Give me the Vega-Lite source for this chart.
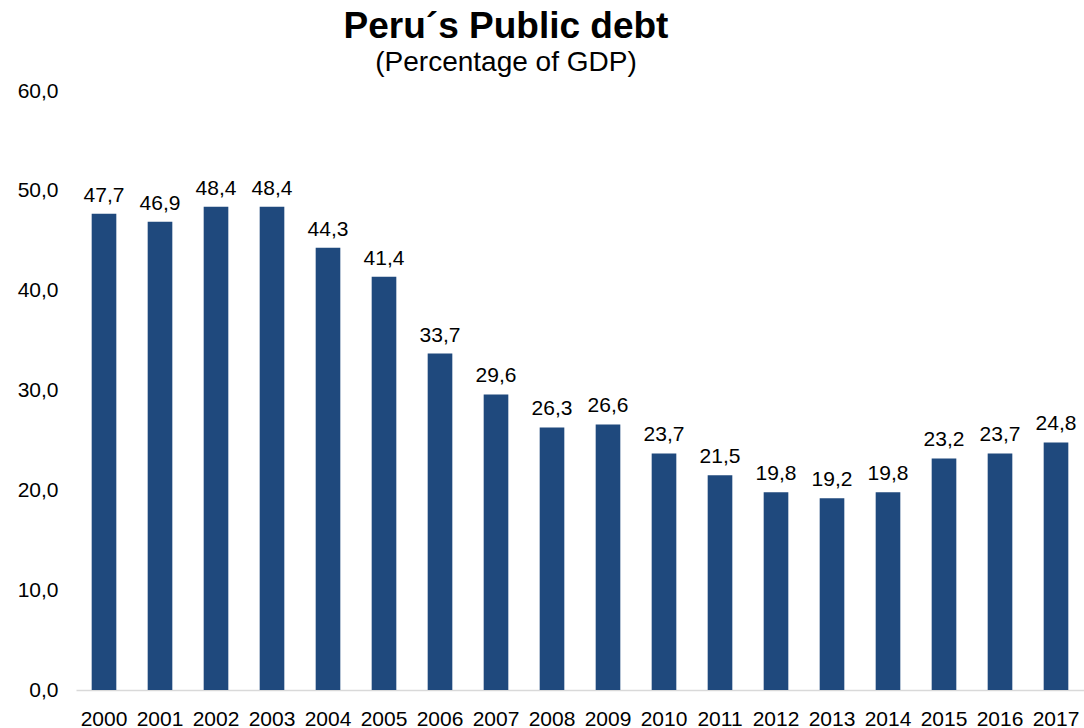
{
  "$schema": "https://vega.github.io/schema/vega-lite/v6.json",
  "width": 1008,
  "height": 599,
  "autosize": "none",
  "padding": {"left": 76, "top": 91, "right": 0, "bottom": 38},
  "background": "white",
  "config": {
    "font": "Liberation Sans",
    "view": {"stroke": null},
    "locale": {"number": {"decimal": ",", "thousands": ".", "grouping": [3], "currency": ["", ""]}}
  },
  "title": {
    "text": "Peru´s Public debt",
    "subtitle": "(Percentage of GDP)",
    "anchor": "middle",
    "frame": "group",
    "dx": -74,
    "font": "Liberation Sans",
    "fontSize": 37,
    "fontWeight": "bold",
    "color": "black",
    "subtitleFont": "Liberation Sans",
    "subtitleFontSize": 28,
    "subtitleColor": "black",
    "subtitlePadding": 3,
    "offset": 2
  },
  "data": {
    "values": [
      {"year": "2000", "debt": 47.7},
      {"year": "2001", "debt": 46.9},
      {"year": "2002", "debt": 48.4},
      {"year": "2003", "debt": 48.4},
      {"year": "2004", "debt": 44.3},
      {"year": "2005", "debt": 41.4},
      {"year": "2006", "debt": 33.7},
      {"year": "2007", "debt": 29.6},
      {"year": "2008", "debt": 26.3},
      {"year": "2009", "debt": 26.6},
      {"year": "2010", "debt": 23.7},
      {"year": "2011", "debt": 21.5},
      {"year": "2012", "debt": 19.8},
      {"year": "2013", "debt": 19.2},
      {"year": "2014", "debt": 19.8},
      {"year": "2015", "debt": 23.2},
      {"year": "2016", "debt": 23.7},
      {"year": "2017", "debt": 24.8}
    ]
  },
  "encoding": {
    "x": {
      "field": "year",
      "type": "ordinal",
      "scale": {"paddingInner": 0.56, "paddingOuter": 0.28},
      "axis": {
        "title": null,
        "labelAngle": 0,
        "labelFontSize": 21,
        "labelColor": "black",
        "labelPadding": 18,
        "ticks": false,
        "domainColor": "#d9d9d9",
        "domainWidth": 1.5,
        "grid": false
      }
    },
    "y": {
      "field": "debt",
      "type": "quantitative",
      "scale": {"domain": [0, 60], "nice": false},
      "axis": {
        "title": null,
        "values": [0, 10, 20, 30, 40, 50, 60],
        "format": ".1f",
        "labelFontSize": 21,
        "labelColor": "black",
        "labelPadding": 18,
        "ticks": false,
        "domain": false,
        "grid": false
      }
    }
  },
  "layer": [
    {"mark": {"type": "bar", "color": "#1f497d"}},
    {
      "mark": {"type": "text", "baseline": "bottom", "dy": -8, "fontSize": 21, "color": "black"},
      "encoding": {"text": {"field": "debt", "type": "quantitative", "format": ".1f"}}
    }
  ]
}
